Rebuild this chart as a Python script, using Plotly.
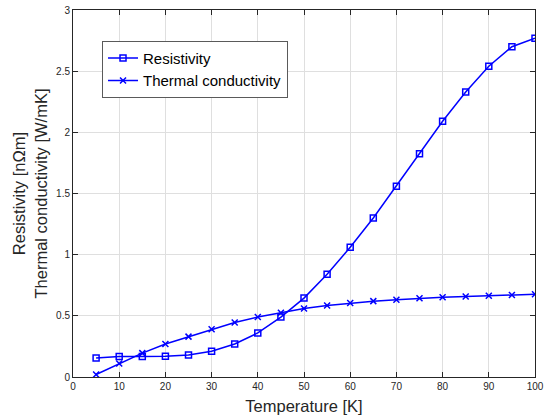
import plotly.graph_objects as go

temperature = [5, 10, 15, 20, 25, 30, 35, 40, 45, 50, 55, 60, 65, 70, 75, 80, 85, 90, 95, 100]
resistivity = [0.155, 0.168, 0.168, 0.17, 0.18, 0.21, 0.27, 0.36, 0.49, 0.645, 0.84, 1.06,
               1.30, 1.56, 1.825, 2.09, 2.33, 2.54, 2.70, 2.77]
thermal = [0.02, 0.11, 0.195, 0.27, 0.33, 0.39, 0.445, 0.49, 0.525, 0.56, 0.585, 0.605,
           0.62, 0.632, 0.643, 0.652, 0.658, 0.664, 0.67, 0.676]

x_ticks = list(range(0, 101, 10))
y_ticks = [0, 0.5, 1, 1.5, 2, 2.5, 3]
y_tick_text = ["0", "0.5", "1", "1.5", "2", "2.5", "3"]

blue = "rgb(0,0,255)"
font = "Liberation Sans, Arial, sans-serif"
dark = "rgb(38,38,38)"

fig = go.Figure()
fig.add_trace(go.Scatter(
    x=temperature, y=resistivity, name="Resistivity", mode="lines+markers",
    line=dict(color=blue, width=1.5),
    marker=dict(symbol="square-open", size=6, color=blue, line=dict(width=1.5)),
))
fig.add_trace(go.Scatter(
    x=temperature, y=thermal, name="Thermal conductivity", mode="lines+markers",
    line=dict(color=blue, width=1.5),
    marker=dict(symbol="x-thin-open", size=6, color=blue, line=dict(width=1.5, color=blue)),
))

axis_common = dict(
    showgrid=True, gridcolor="rgb(223,223,223)", gridwidth=1,
    showline=True, linecolor=dark, linewidth=1, mirror="allticks",
    ticks="inside", ticklen=5, tickcolor=dark,
    tickfont=dict(family=font, size=10, color=dark),
    zeroline=False, automargin=False,
)

fig.update_layout(
    width=551, height=419,
    margin=dict(l=73, r=16, t=10, b=42),
    paper_bgcolor="white", plot_bgcolor="white",
    font=dict(family=font, color=dark),
    xaxis=dict(range=[0, 100], tickvals=x_ticks,
               title=dict(text="Temperature [K]", font=dict(family=font, size=16.5, color=dark), standoff=9),
               **axis_common),
    yaxis=dict(range=[0, 3], tickvals=y_ticks, ticktext=y_tick_text,
               title=dict(text="Resistivity [nΩm]<br>Thermal conductivity [W/mK]",
                          font=dict(family=font, size=16.5, color=dark), standoff=4),
               **axis_common),
    legend=dict(x=0.0628, y=0.916, xanchor="left", yanchor="top",
                bgcolor="white", bordercolor="rgb(90,90,90)", borderwidth=1,
                font=dict(family=font, size=15, color="black"),
                tracegroupgap=0, itemwidth=30),
    showlegend=True,
)

fig.write_html("out.html", config={"displayModeBar": False},
               post_script="document.body.style.margin='0';")
